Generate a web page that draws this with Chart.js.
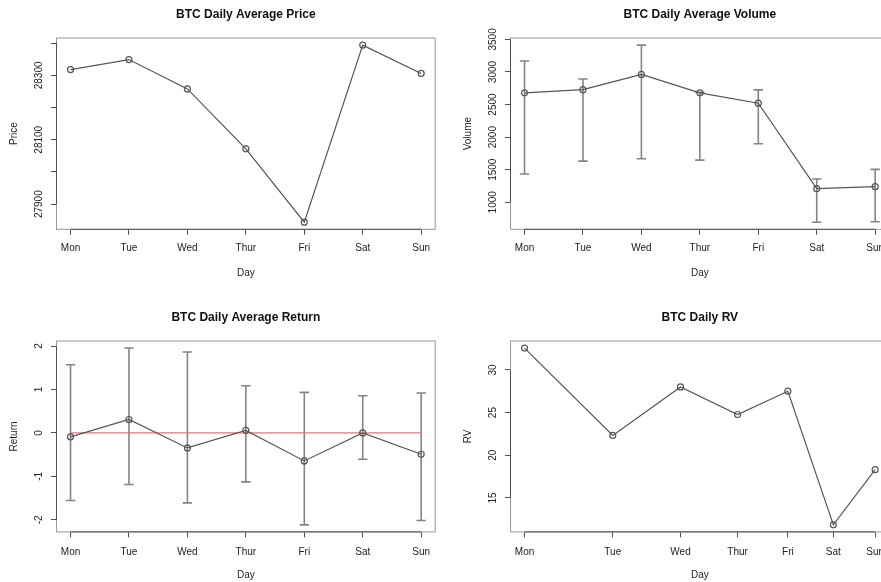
<!DOCTYPE html>
<html lang="en">
<head>
<meta charset="UTF-8">
<title>BTC daily averages</title>
<script src="https://cdn.jsdelivr.net/npm/chart.js"></script>
<style>
  html, body { margin: 0; padding: 0; overflow: hidden; background: #fff; }
  #wrap { position: relative; width: 881px; height: 582px; overflow: hidden; }
  canvas { position: absolute; }
</style>
</head>
<body>
<div id="wrap">
  <canvas id="price" width="454" height="291" style="left:0;top:0"></canvas>
  <canvas id="volume" width="454" height="291" style="left:454px;top:0"></canvas>
  <canvas id="ret" width="454" height="291" style="left:0;top:291px"></canvas>
  <canvas id="rv" width="454" height="291" style="left:454px;top:291px"></canvas>
</div>
<script>
const days = ['Mon', 'Tue', 'Wed', 'Thur', 'Fri', 'Sat', 'Sun'];

const price = [28318, 28349, 28258, 28072, 27844, 28394, 28306];
const priceTicks = [27900, 28000, 28100, 28200, 28300, 28400];
const priceTickLabels = ['27900', '', '28100', '', '28300', ''];

const volume = [2680, 2729, 2963, 2680, 2521, 1209, 1240];
const volumeLow = [1433, 1631, 1668, 1647, 1899, 694, 700];
const volumeHigh = [3168, 2893, 3413, 2690, 2725, 1358, 1505];
const volumeTicks = [1000, 1500, 2000, 2500, 3000, 3500];

const ret = [-0.09, 0.31, -0.345, 0.06, -0.644, 0.0, -0.49];
const retLow = [-1.556, -1.188, -1.609, -1.126, -2.115, -0.605, -2.015];
const retHigh = [1.571, 1.954, 1.862, 1.088, 0.935, 0.858, 0.92];
const retTicks = [-2, -1, 0, 1, 2];
const retZero = 0;

const rv = [32.57, 22.32, 28.01, 24.78, 27.51, 11.84, 18.31];
const rvTicks = [15, 20, 25, 30];

const FONT = "'Liberation Sans', Arial, Helvetica, sans-serif";
const TICK_LEN = 5.5;
const LABEL_GAP = 17;   // axis line -> centre of rotated y labels
const LINE = '#555555';
const ERR = '#858585';

// x axis of the RV panel is on a square-root scale
class SqrtScale extends Chart.LinearScale {
  getPixelForValue(v) {
    if (v === null || isNaN(v)) return NaN;
    const a = Math.sqrt(this.min), b = Math.sqrt(this.max);
    return this.getPixelForDecimal((Math.sqrt(v) - a) / (b - a));
  }
  getValueForPixel(p) {
    const a = Math.sqrt(this.min), b = Math.sqrt(this.max);
    const s = a + this.getDecimalForPixel(p) * (b - a);
    return s * s;
  }
}
SqrtScale.id = 'sqrt';
SqrtScale.defaults = Chart.LinearScale.defaults;
Chart.register(SqrtScale);

// R style: box round the plot, darker axis line from first to last tick
const rFrame = {
  id: 'rFrame',
  beforeDatasetsDraw(chart) {
    const { ctx, chartArea: a, scales: { x, y } } = chart;
    ctx.save();
    ctx.lineWidth = 1;
    ctx.strokeStyle = '#989898';
    ctx.strokeRect(a.left, a.top, a.right - a.left, a.bottom - a.top);
    ctx.strokeStyle = '#505050';
    ctx.beginPath();
    ctx.moveTo(x.getPixelForValue(x.ticks[0].value), a.bottom);
    ctx.lineTo(x.getPixelForValue(x.ticks[x.ticks.length - 1].value), a.bottom);
    ctx.moveTo(a.left, y.getPixelForValue(y.ticks[0].value));
    ctx.lineTo(a.left, y.getPixelForValue(y.ticks[y.ticks.length - 1].value));
    ctx.stroke();
    ctx.restore();
  }
};

const mctx = document.createElement('canvas').getContext('2d');
function yPad(labels) {
  mctx.font = '10px ' + FONT;
  const w = Math.max(...labels.map(s => mctx.measureText(s).width));
  return LABEL_GAP - TICK_LEN - w / 2;
}

function rRange(lo, hi) {
  const d = (hi - lo) * 0.04;
  return [lo - d, hi + d];
}

function pts(vals) {
  return vals.map((v, i) => ({ x: i + 1, y: v }));
}

function errPts(lo, hi) {
  const out = [];
  lo.forEach((v, i) => out.push({ x: i + 1, y: v }, { x: i + 1, y: hi[i] }, { x: i + 1, y: null }));
  return out;
}

function mainSet(vals) {
  return {
    data: pts(vals), borderColor: LINE, borderWidth: 1.2, tension: 0,
    pointStyle: 'circle', pointRadius: 3, pointBorderColor: LINE,
    pointBackgroundColor: 'rgba(0,0,0,0)', pointBorderWidth: 1.2, order: 0
  };
}

function errSet(lo, hi) {
  return {
    data: errPts(lo, hi), borderColor: ERR, borderWidth: 1.6, spanGaps: false,
    pointStyle: 'line', pointRadius: 4.7, pointBorderColor: ERR,
    pointBorderWidth: 1.6, pointBackgroundColor: ERR, order: 2
  };
}

function makeChart(id, c) {
  const labels = c.yTicks.map((v, i) => c.yLabels ? c.yLabels[i] : String(v));
  const xs = c.top ? { titleTop: 7.5, titleBottom: 16.1, axisH: 61.7, dayPad: 11.7, tickPad: 7.5 }
                   : { titleTop: 19.3, titleBottom: 16.3, axisH: 50.1, dayPad: 1, tickPad: 8.5 };
  return new Chart(document.getElementById(id), {
    type: 'line',
    data: { datasets: c.datasets },
    options: {
      responsive: false,
      maintainAspectRatio: false,
      animation: false,
      devicePixelRatio: 1,
      events: [],
      layout: { padding: { left: 0, right: 18.8, top: 0, bottom: 0 } },
      plugins: {
        legend: { display: false },
        tooltip: { enabled: false },
        title: {
          display: true, text: c.title, fullSize: false, color: '#111',
          font: { family: FONT, size: 12, weight: 'bold' },
          padding: { top: xs.titleTop, bottom: xs.titleBottom }
        }
      },
      scales: {
        x: {
          type: c.xType || 'linear',
          min: c.xRange[0], max: c.xRange[1],
          afterBuildTicks: s => { s.ticks = days.map((d, i) => ({ value: i + 1 })); },
          afterFit: s => { s.height = xs.axisH; },
          ticks: {
            autoSkip: false, maxRotation: 0, color: '#222', padding: xs.tickPad,
            font: { family: FONT, size: 10 },
            callback: v => days[Math.round(v) - 1]
          },
          grid: { drawOnChartArea: false, drawTicks: true, tickLength: TICK_LEN, tickColor: '#505050' },
          border: { display: false },
          title: {
            display: true, text: 'Day', color: '#222',
            font: { family: FONT, size: 10 }, padding: { top: 0, bottom: xs.dayPad }
          }
        },
        y: {
          min: c.yRange[0], max: c.yRange[1],
          afterBuildTicks: s => { s.ticks = c.yTicks.map(v => ({ value: v })); },
          afterFit: s => { s.width = 56.5; },
          ticks: {
            minRotation: 90, maxRotation: 90, crossAlign: 'center', color: '#222',
            padding: yPad(labels), font: { family: FONT, size: 10 },
            callback: (v, i) => labels[i]
          },
          grid: { drawOnChartArea: false, drawTicks: true, tickLength: TICK_LEN, tickColor: '#505050' },
          border: { display: false },
          title: {
            display: true, text: c.yTitle, color: '#222',
            font: { family: FONT, size: 10 }, padding: { top: 8, bottom: 0 }
          }
        }
      }
    },
    plugins: [rFrame]
  });
}

const dayRange = rRange(1, days.length);
const s0 = Math.sqrt(1), s1 = Math.sqrt(days.length);
const sqrtRange = rRange(s0, s1).map(v => v * v);

makeChart('price', {
  top: true, title: 'BTC Daily Average Price', yTitle: 'Price',
  xRange: dayRange,
  yRange: rRange(Math.min(...price), Math.max(...price)),
  yTicks: priceTicks, yLabels: priceTickLabels,
  datasets: [mainSet(price)]
});

makeChart('volume', {
  top: true, title: 'BTC Daily Average Volume', yTitle: 'Volume',
  xRange: dayRange,
  yRange: rRange(Math.min(...volumeLow), Math.max(...volumeHigh)),
  yTicks: volumeTicks,
  datasets: [mainSet(volume), errSet(volumeLow, volumeHigh)]
});

makeChart('ret', {
  top: false, title: 'BTC Daily Average Return', yTitle: 'Return',
  xRange: dayRange,
  yRange: rRange(Math.min(...retLow), Math.max(...retHigh)),
  yTicks: retTicks,
  datasets: [
    mainSet(ret),
    { data: pts(days.map(() => retZero)), borderColor: '#f07070', borderWidth: 1.2,
      pointRadius: 0, tension: 0, order: 1 },
    errSet(retLow, retHigh)
  ]
});

makeChart('rv', {
  top: false, title: 'BTC Daily RV', yTitle: 'RV',
  xType: 'sqrt', xRange: sqrtRange,
  yRange: rRange(Math.min(...rv), Math.max(...rv)),
  yTicks: rvTicks,
  datasets: [mainSet(rv)]
});
</script>
</body>
</html>
